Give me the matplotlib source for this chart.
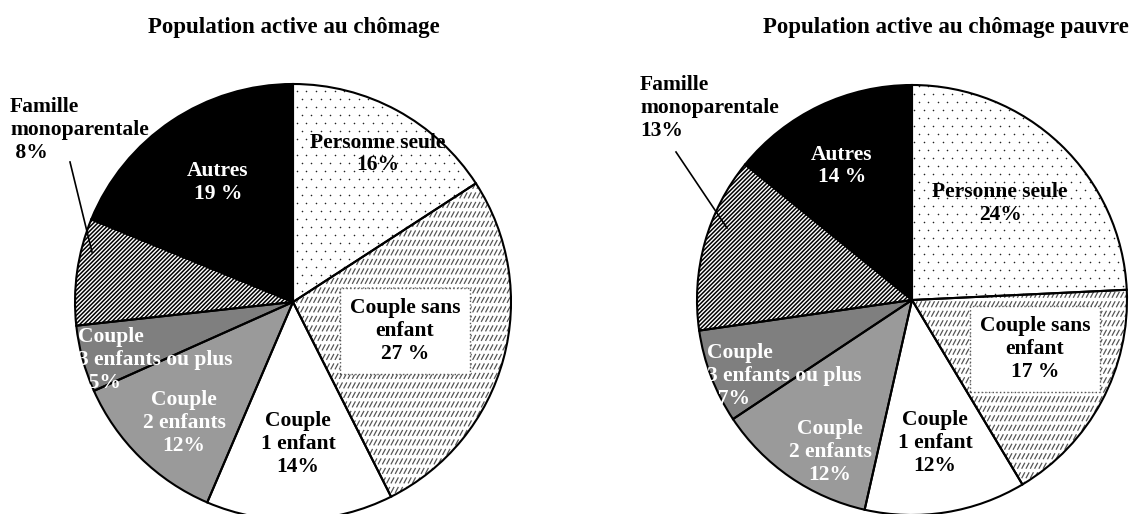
import numpy as np
import matplotlib.pyplot as plt
from matplotlib.collections import LineCollection

plt.rcParams['font.family'] = ['Liberation Serif', 'DejaVu Serif']
plt.rcParams['font.weight'] = 'bold'
plt.rcParams['hatch.linewidth'] = 1.1

W, H = 1143, 514

categories = ['Personne seule', 'Couple sans\nenfant', 'Couple\n1 enfant',
              'Couple\n2 enfants', 'Couple\n3 enfants ou plus',
              'Famille\nmonoparentale', 'Autres']
chomage = [16, 27, 14, 12, 5, 8, 19]
chomage_pauvre = [24, 17, 12, 12, 7, 13, 14]
pct_sep = ['', ' ', '', '', '', '', ' ']

fills = ['white', 'white', 'white', '#9a9a9a', '#7f7f7f', 'white', 'black']
text_colors = ['black', 'black', 'black', 'white', 'white', 'black', 'white']


def dots_texture(ax, wedge, u):
    # sparse dot grid, clipped to the wedge
    xs, ys = [], []
    for j, y in enumerate(np.arange(-1.05, 1.05, 8 * u)):
        off = (j % 2) * 4.7 * u
        for x in np.arange(-1.05, 1.05, 9.5 * u):
            xs.append(x + off)
            ys.append(y)
    sc = ax.scatter(xs, ys, s=1.3, c='#222222', linewidths=0, zorder=2)
    sc.set_clip_path(wedge)


def dashes_texture(ax, wedge, u):
    # rows of short slanted dashes
    segs = []
    for y in np.arange(-1.05, 1.05, 9.5 * u):
        for x in np.arange(-1.05, 1.05, 4.3 * u):
            segs.append([(x, y), (x + 3.2 * u, y + 6 * u)])
    lc = LineCollection(segs, colors='#555555', linewidths=0.9, zorder=2)
    lc.set_clip_path(wedge)
    ax.add_collection(lc)


def draw_pie(rect, radius_px, values, title, title_xy, label_pos):
    ax = fig.add_axes(rect)
    ax.set_xlim(-1, 1)
    ax.set_ylim(-1, 1)
    ax.axis('off')
    u = 1.0 / radius_px

    wedges, _ = ax.pie(values, startangle=90, counterclock=False, radius=1,
                       colors=fills, wedgeprops=dict(linewidth=0))
    for w in wedges:
        w.set_zorder(1)
    wedges[5].set_hatch('////////')
    wedges[5].set_edgecolor('black')
    wedges[5].set_linewidth(0)
    dots_texture(ax, wedges[0], u)
    dashes_texture(ax, wedges[1], u)

    outline, _ = ax.pie(values, startangle=90, counterclock=False, radius=1,
                        wedgeprops=dict(fill=False, edgecolor='black',
                                        linewidth=1.5))
    for w in outline:
        w.set_zorder(3)
    ax.set_xlim(-1, 1)
    ax.set_ylim(-1, 1)
    ax.set_aspect('auto')

    fig.text(title_xy[0] / W, 1 - title_xy[1] / H, title, ha='center',
             va='center', fontsize=16.5)

    for i, v in enumerate(values):
        x, y, ha = label_pos[i]
        txt = f'{categories[i]}\n{v}{pct_sep[i]}%'
        if i == 4:
            txt = f'{categories[i]}\n  {v}{pct_sep[i]}%'
        if i == 5 and ha == 'left' and x < 100:
            txt = f'{categories[i]}\n {v}{pct_sep[i]}%'
        kw = {}
        if i == 1:
            kw['bbox'] = dict(facecolor='white', edgecolor='#555555',
                              linestyle=':', linewidth=1, pad=7)
        fig.text(x / W, 1 - y / H, txt, ha=ha, va='center',
                 multialignment=ha, fontsize=15.5, color=text_colors[i],
                 linespacing=1.2, zorder=5, **kw)
    return ax


fig = plt.figure(figsize=(W / 100, H / 100), dpi=100)

left_labels = [(378, 154, 'center'), (405, 331, 'center'), (298, 444, 'center'),
               (184, 423, 'center'), (78, 360, 'left'), (10, 130, 'left'),
               (218, 182, 'center')]
right_labels = [(1000, 204, 'center'), (1035, 349, 'center'), (935, 443, 'center'),
                (830, 452, 'center'), (707, 376, 'left'), (640, 108, 'left'),
                (842, 166, 'center')]

r1, cx1, cy1 = 218, 293, 302
r2, cx2, cy2 = 215, 912, 300
draw_pie([(cx1 - r1) / W, (H - cy1 - r1) / H, 2 * r1 / W, 2 * r1 / H], r1,
         chomage, 'Population active au chômage', (294, 28), left_labels)
draw_pie([(cx2 - r2) / W, (H - cy2 - r2) / H, 2 * r2 / W, 2 * r2 / H], r2,
         chomage_pauvre, 'Population active au chômage pauvre', (946, 28),
         right_labels)

# leader lines for the small "Famille monoparentale" slices
fig.add_artist(plt.Line2D([70 / W, 92 / W], [1 - 162 / H, 1 - 252 / H],
                          color='black', linewidth=1.2))
fig.add_artist(plt.Line2D([676 / W, 727 / W], [1 - 152 / H, 1 - 228 / H],
                          color='black', linewidth=1.2))

fig.savefig('out.png', dpi=100)
